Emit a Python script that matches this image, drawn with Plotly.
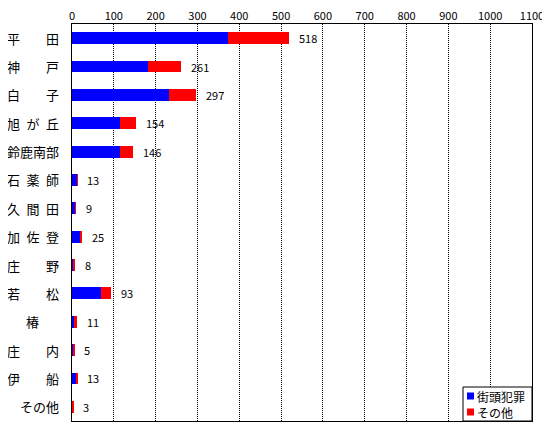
import plotly.graph_objects as go

# data
areas = ["平田", "神戸", "白子", "旭が丘", "鈴鹿南部", "石薬師", "久間田",
         "加佐登", "庄野", "若松", "椿", "庄内", "伊船", "その他"]
area_labels = ["平\u3000\u3000田", "神\u3000\u3000戸", "白\u3000\u3000子", "旭\u2002が\u2002丘",
               "鈴鹿南部", "石\u2002薬\u2002師", "久\u2002間\u2002田", "加\u2002佐\u2002登",
               "庄\u3000\u3000野", "若\u3000\u3000松", "椿", "庄\u3000\u3000内",
               "伊\u3000\u3000船", "その他"]
street = [374, 181, 231, 114, 114, 12, 8, 19, 2, 69, 7, 4, 10, 2]
other = [144, 80, 66, 40, 32, 1, 1, 6, 6, 24, 4, 1, 3, 1]
totals = [518, 261, 297, 154, 146, 13, 9, 25, 8, 93, 11, 5, 13, 3]
xticks = list(range(0, 1101, 100))
series_names = ["街頭犯罪", "その他"]
series_colors = ["#0000ff", "#ff0000"]

font = "Noto Sans CJK JP"

fig = go.Figure()
for name, vals, col in zip(series_names, [street, other], series_colors):
    fig.add_trace(go.Bar(y=areas, x=vals, orientation="h", name=name,
                         marker=dict(color=col, line=dict(width=0)), width=0.42))

# totals at the end of each bar
for a, t in zip(areas, totals):
    fig.add_annotation(x=t, y=a, text=str(t), showarrow=False, xanchor="left",
                       xshift=8, font=dict(size=11, color="black", family=font))

# category labels
for a, lab in zip(areas, area_labels):
    if a == "椿":
        fig.add_annotation(x=-0.085, y=a, xref="paper", text=lab, showarrow=False,
                           xanchor="center", font=dict(size=13, color="black", family=font))
    else:
        fig.add_annotation(x=-0.024, y=a, xref="paper", text=lab, showarrow=False,
                           xanchor="right", font=dict(size=13, color="black", family=font))

# small legend box, drawn by hand (plotly's own is too roomy)
ph = 397.0  # plot height in px
fig.add_shape(type="rect", xref="paper", yref="paper", x0=0.85, x1=1.0, y0=0, y1=34 / ph,
              line=dict(color="black", width=1), fillcolor="white")
for i, (name, col) in enumerate(zip(series_names, series_colors)):
    yc = (25 - i * 16) / ph
    fig.add_shape(type="rect", xref="paper", yref="paper", x0=0.8587, x1=0.8739,
                  y0=yc - 3.5 / ph, y1=yc + 3.5 / ph, line=dict(width=0), fillcolor=col)
    fig.add_annotation(x=0.8783, y=yc, xref="paper", yref="paper", text=name,
                       showarrow=False, xanchor="left", yanchor="middle", borderpad=0,
                       font=dict(size=12, color="black", family=font))

# page body adds 8px, so the figure is a bit smaller
fig.update_layout(
    barmode="stack",
    width=542, height=432,
    margin=dict(l=64, r=18, t=16, b=19),
    paper_bgcolor="white", plot_bgcolor="white",
    font=dict(family=font, color="black"),
    showlegend=False,
)
fig.update_xaxes(side="top", range=[0, 1100], tickvals=xticks,
                 tickfont=dict(size=11), showgrid=True, gridcolor="black",
                 griddash="1px,1px", gridwidth=1, showline=True, linecolor="black",
                 linewidth=1, mirror=True, zeroline=False, ticks="", fixedrange=True,
                 automargin=False, ticklabeloverflow="allow", ticklabelstandoff=-1)
fig.update_yaxes(autorange="reversed", showticklabels=False, showline=True,
                 linecolor="black", linewidth=1, mirror=True, ticks="",
                 showgrid=False, fixedrange=True, automargin=False)

fig.write_html("out.html")
